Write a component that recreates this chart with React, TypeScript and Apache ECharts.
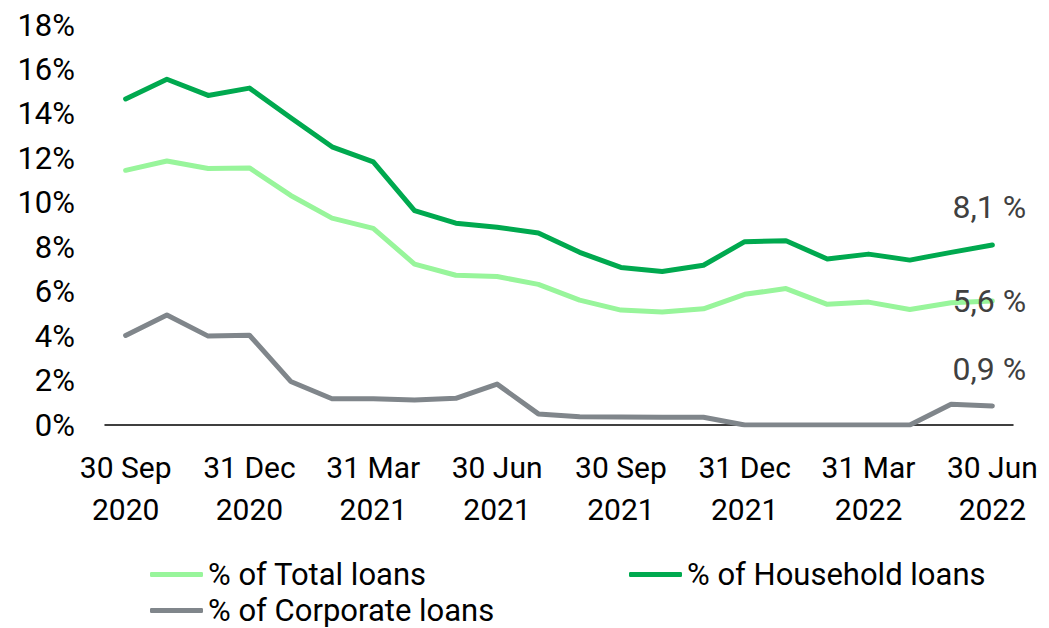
import React, { useEffect, useRef } from "react";
import * as echarts from "echarts";

const categories = [
  "30 Sep\n2020", "31 Oct\n2020", "30 Nov\n2020", "31 Dec\n2020", "31 Jan\n2021", "28 Feb\n2021",
  "31 Mar\n2021", "30 Apr\n2021", "31 May\n2021", "30 Jun\n2021", "31 Jul\n2021", "31 Aug\n2021",
  "30 Sep\n2021", "31 Oct\n2021", "30 Nov\n2021", "31 Dec\n2021", "31 Jan\n2022", "28 Feb\n2022",
  "31 Mar\n2022", "30 Apr\n2022", "31 May\n2022", "30 Jun\n2022",
];

const totalLoans = [
  11.46, 11.88, 11.54, 11.57, 10.33, 9.31, 8.85, 7.24, 6.74, 6.68, 6.33, 5.62,
  5.17, 5.08, 5.23, 5.88, 6.14, 5.43, 5.53, 5.2, 5.5, 5.58,
];
const householdLoans = [
  14.67, 15.56, 14.83, 15.16, 13.83, 12.52, 11.84, 9.65, 9.08, 8.9, 8.64, 7.77,
  7.09, 6.91, 7.19, 8.25, 8.29, 7.47, 7.69, 7.42, 7.77, 8.1,
];
const corporateLoans = [
  4.03, 4.95, 4.0, 4.04, 1.96, 1.18, 1.18, 1.13, 1.2, 1.84, 0.5, 0.37,
  0.36, 0.35, 0.35, 0.0, 0.0, 0.0, 0.0, 0.0, 0.93, 0.86,
];

const seriesNames = ["% of Total loans", "% of Household loans", "% of Corporate loans"];
const endLabels = ["5,6 %", "8,1 %", "0,9 %"];
const yTicks = { min: 0, max: 18, interval: 2 };

const COLORS = ["#98f59b", "#00a94f", "#80868b"];
const FONT = "Roboto";

export default function App() {
  const ref = useRef<HTMLDivElement>(null);
  useEffect(() => {
    document.body.style.margin = "0";
    const chart = echarts.init(ref.current!, null, { renderer: "svg" });
    const lineSeries = (name: string, data: number[], color: string, label: string, offY: number) => ({
      name,
      type: "line",
      data,
      symbol: "none",
      lineStyle: { color, width: 5, cap: "round", join: "round" },
      itemStyle: { color },
      emphasis: { disabled: true },
      endLabel: {
        show: true,
        formatter: label,
        color: "#404040",
        fontSize: 32,
        fontFamily: FONT,
        align: "center",
        verticalAlign: "middle",
        distance: 0,
        offset: [-3, offY],
      },
    });
    const legendText = { color: "#000", fontSize: 31, fontFamily: FONT, lineHeight: 30 };
    chart.setOption({
      animation: false,
      grid: { left: 105, right: 36, top: 25, bottom: 203, containLabel: false },
      xAxis: {
        type: "category",
        data: categories,
        boundaryGap: true,
        axisLine: { show: true, lineStyle: { color: "#000", width: 1.5 } },
        axisTick: { show: false },
        axisLabel: {
          interval: 2,
          color: "#000",
          fontSize: 30,
          lineHeight: 42,
          fontFamily: FONT,
          margin: 21,
        },
        splitLine: { show: false },
      },
      yAxis: {
        type: "value",
        min: yTicks.min,
        max: yTicks.max,
        interval: yTicks.interval,
        axisLine: { show: false },
        axisTick: { show: false },
        splitLine: { show: false },
        axisLabel: {
          formatter: "{value}%",
          color: "#000",
          fontSize: 31,
          fontFamily: FONT,
          margin: 30,
        },
      },
      legend: [
        {
          data: [seriesNames[0], seriesNames[2]],
          orient: "vertical",
          left: 150,
          top: 559,
          height: 120,
          padding: 0,
          itemGap: 5,
          icon: "roundRect",
          itemWidth: 53,
          itemHeight: 5,
          textStyle: legendText,
        },
        {
          data: [seriesNames[1]],
          orient: "vertical",
          left: 629,
          top: 559,
          height: 120,
          padding: 0,
          icon: "roundRect",
          itemWidth: 53,
          itemHeight: 5,
          textStyle: legendText,
        },
      ],
      series: [
        lineSeries(seriesNames[0], totalLoans, COLORS[0], endLabels[0], 0),
        lineSeries(seriesNames[1], householdLoans, COLORS[1], endLabels[1], -38),
        lineSeries(seriesNames[2], corporateLoans, COLORS[2], endLabels[2], -37),
      ],
    });
    return () => chart.dispose();
  }, []);
  return <div ref={ref} style={{ width: 1049, height: 628 }} />;
}
